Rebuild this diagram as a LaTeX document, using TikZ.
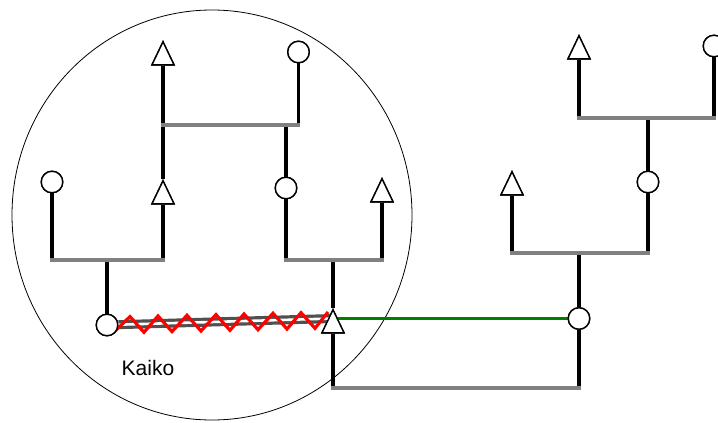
\documentclass[tikz,border=0pt]{standalone}
\usepackage{fontspec}
\setmainfont{Liberation Sans}
\usetikzlibrary{shapes.geometric}
\definecolor{hgray}{HTML}{808080}
\definecolor{dgray}{HTML}{505050}
\definecolor{kgreen}{HTML}{008000}
\definecolor{kred}{HTML}{FF0000}
\begin{document}
\begin{tikzpicture}[x=1pt,y=-1pt,
  fem/.style={circle,draw=black,fill=white,line width=1.4pt,minimum size=21.5pt,inner sep=0pt},
  male/.style={isosceles triangle,isosceles triangle stretches,shape border rotate=90,
    draw=black,fill=white,line width=1.4pt,minimum width=22pt,minimum height=23pt,inner sep=0pt,anchor=apex},
  stem/.style={draw=black,line width=3.4pt},
  bar/.style={draw=hgray,line width=3.4pt,line cap=rect},
  twin/.style={draw=dgray,line width=3.2pt,double=white,double distance=2.6pt},
  zig/.style={draw=kred,line width=3.2pt,line join=miter},
  link/.style={draw=kgreen,line width=3.4pt}]
\useasboundingbox (0,0) rectangle (718,423);
\node[draw=black,line width=0.8pt,ellipse,minimum width=400pt,minimum height=410pt,inner sep=0pt] (ring) at (212,215) {};

% nodes
\node[male] (t1) at (163,40) {};
\node[male] (t2) at (163,179) {};
\node[male] (t3) at (382,177) {};
\node[male] (t4) at (333,308) {};
\node[male] (t5) at (579,34) {};
\node[male] (t6) at (512,170) {};
\node[fem] (c0) at (52,182) {};
\node[fem] (c1) at (298.5,52) {};
\node[fem] (c2) at (286,188) {};
\node[fem] (c3) at (107,325) {};
\node[fem] (c5) at (579,318.5) {};
\node[fem] (c6) at (714,46) {};
\node[fem] (c7) at (648,182) {};
\node[anchor=base west,inner sep=0pt,font=\fontsize{21}{25}\selectfont] (kaiko) at (121.5,375) {Kaiko};

% junctions
\coordinate (j1a) at (163,125);
\coordinate (j1b) at (298.5,125);
\coordinate (j1c) at (286,125);
\coordinate (j2a) at (52,260);
\coordinate (j2b) at (163,260);
\coordinate (j2c) at (107,260);
\coordinate (j3a) at (286,260);
\coordinate (j3b) at (382,260);
\coordinate (j3c) at (333,260);
\coordinate (j4a) at (333,388);
\coordinate (j4b) at (579,388);
\coordinate (j5a) at (579,118);
\coordinate (j5b) at (714,118);
\coordinate (j5c) at (648,118);
\coordinate (j6a) at (512,253);
\coordinate (j6b) at (648,253);
\coordinate (j6c) at (579,253);
\coordinate (t4in) at (333,318.5);

% black stems
\path[stem] (t1) -- (t2);
\path[stem] (t2) -- (j2b);
\path[stem] (c1) -- (j1b);
\path[stem] (j1c) -- (c2);
\path[stem] (c2) -- (j3a);
\path[stem] (t3) -- (j3b);
\path[stem] (c0) -- (j2a);
\path[stem] (j2c) -- (c3);
\path[stem] (j3c) -- (t4);
\path[stem] (t4) -- (j4a);
\path[stem] (t5) -- (j5a);
\path[stem] (c6) -- (j5b);
\path[stem] (j5c) -- (c7);
\path[stem] (c7) -- (j6b);
\path[stem] (t6) -- (j6a);
\path[stem] (j6c) -- (c5);
\path[stem] (c5) -- (j4b);

% gray bars
\path[bar] (j1a) -- (j1b);
\path[bar] (j2a) -- (j2b);
\path[bar] (j3a) -- (j3b);
\path[bar] (j4a) -- (j4b);
\path[bar] (j5a) -- (j5b);
\path[bar] (j6a) -- (j6b);

% relations
\path[twin] (c3) -- (t4in);
\path[link] (c5) -- (t4in);
\path[zig] (113,333) -- (130,316.6) -- (144,332.3) -- (158,316) -- (172,331.6) -- (187,315.3)
  -- (201,331) -- (216,314.6) -- (230,330.3) -- (244,314) -- (258,329.7) -- (273,313.3)
  -- (287,329) -- (301,312.7) -- (315,328.3) -- (328,312);

% redraw nodes on top
\foreach \p in {{163,40},{163,179},{382,177},{333,308},{579,34},{512,170}}
  \node[male] at (\p) {};
\foreach \p in {{52,182},{298.5,52},{286,188},{107,325},{579,318.5},{714,46},{648,182}}
  \node[fem] at (\p) {};
\end{tikzpicture}
\end{document}
